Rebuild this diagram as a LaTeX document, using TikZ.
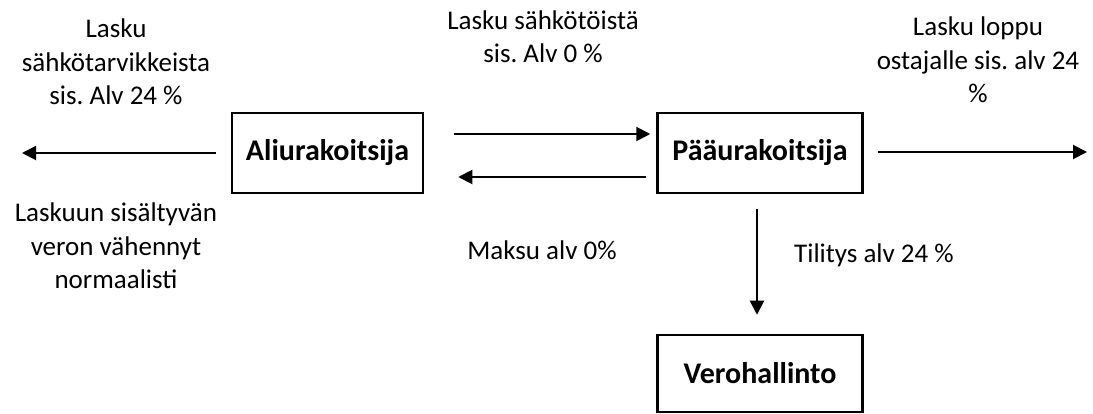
\documentclass[tikz,border=0pt]{standalone}
\usepackage{fontspec}
\setmainfont{Carlito}
\frenchspacing
\usetikzlibrary{arrows.meta}
\begin{document}
\begin{tikzpicture}[x=1pt,y=-1pt,
  party/.style={draw, line width=2.5pt, inner sep=0pt,
    minimum width=205pt, minimum height=80pt,
    font=\bfseries\fontsize{30}{34}\selectfont},
  label/.style={align=center, inner sep=0pt,
    font=\fontsize{27}{33.5}\selectfont},
  flow/.style={line width=2pt,
    -{Triangle[length=14pt,width=14pt]}}]
\useasboundingbox (0,0) rectangle (1093,414);

% parties
\node[party, minimum width=191pt] (ali) at (327.5,153) {Aliurakoitsija};
\node[party] (paa) at (760,153) {Pääurakoitsija};
\node[party, minimum height=77pt] (vero) at (760,373.5) {Verohallinto};

% free ends of the flows
\coordinate (leftend) at (22,153);
\coordinate (rightend) at (1087,152);

% flows (shifts are in page directions: positive yshift is upwards)
\draw[flow] ([xshift=-15pt]ali.west) -- (leftend);
\draw[flow] ([xshift=30pt,yshift=19pt]ali.east) -- ([xshift=-6pt,yshift=19pt]paa.west);
\draw[flow] ([xshift=-10pt,yshift=-24pt]paa.west) -- ([xshift=34pt,yshift=-24pt]ali.east);
\draw[flow] ([xshift=14pt,yshift=1pt]paa.east) -- (rightend);
\draw[flow] ([xshift=-3pt,yshift=-15pt]paa.south) -- ([xshift=-3pt,yshift=19pt]vero.north);

% labels (anchored at the baseline of their last line)
\node[label, anchor=base] (l1) at (116,105) {Lasku\\sähkötarvikkeista\\sis. Alv 24 \%};
\node[label, anchor=base] (l2) at (116,289) {Laskuun sisältyvän\\veron vähennyt\\normaalisti};
\node[label, anchor=base] (l3) at (543,63) {Lasku sähkötöistä\\sis. Alv 0 \%};
\node[label, anchor=base] (l4) at (978,103) {Lasku loppu\\ostajalle sis. alv 24\\\%};
\node[label, anchor=base] (l5) at (542,260) {Maksu alv 0\%};
\node[label, anchor=base] (l6) at (874,263) {Tilitys alv 24 \%};
\end{tikzpicture}
\end{document}
